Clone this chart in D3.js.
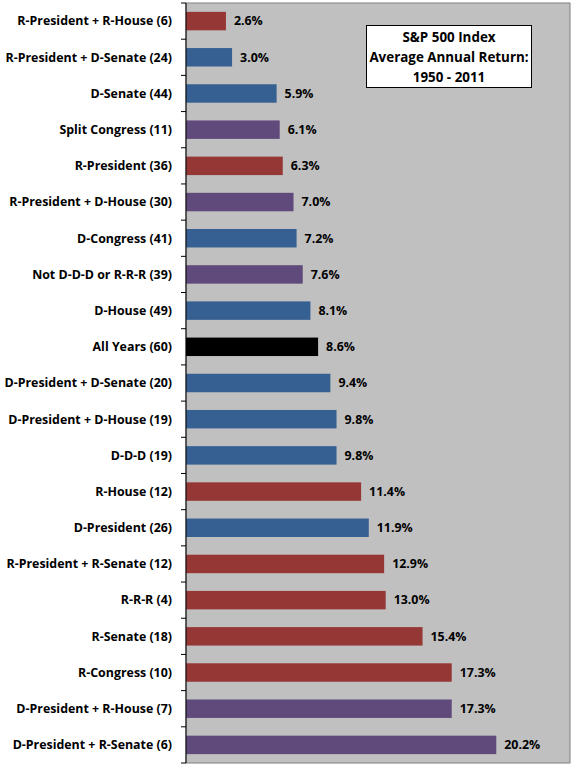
<!DOCTYPE html>
<html>
<head>
  <meta charset="utf-8">
  <style>
    body { margin: 0; background: #fff; }
    svg text { font-family: "Open Sans", "Liberation Sans", sans-serif; font-weight: bold; fill: #000; }
    .cat-label { font-size: 12.4px; }
    .val-label { font-size: 12.4px; }
    .note text { font-size: 13.4px; }
  </style>
</head>
<body>
<script src="https://d3js.org/d3.v7.min.js"></script>
<script>
  // categories top to bottom
  var categories = [
    "R-President + R-House (6)", "R-President + D-Senate (24)", "D-Senate (44)",
    "Split Congress (11)", "R-President (36)", "R-President + D-House (30)",
    "D-Congress (41)", "Not D-D-D or R-R-R (39)", "D-House (49)", "All Years (60)",
    "D-President + D-Senate (20)", "D-President + D-House (19)", "D-D-D (19)",
    "R-House (12)", "D-President (26)", "R-President + R-Senate (12)", "R-R-R (4)",
    "R-Senate (18)", "R-Congress (10)", "D-President + R-House (7)",
    "D-President + R-Senate (6)"
  ];
  var returns = [2.6, 3.0, 5.9, 6.1, 6.3, 7.0, 7.2, 7.6, 8.1, 8.6, 9.4, 9.8, 9.8,
                 11.4, 11.9, 12.9, 13.0, 15.4, 17.3, 17.3, 20.2];
  // R = republican, D = democrat, S = split, A = all years
  var groups = ["R", "D", "D", "S", "R", "S", "D", "S", "D", "A", "D", "D", "D",
                "R", "D", "R", "R", "R", "R", "S", "S"];
  var noteLines = ["S&P 500 Index", "Average Annual Return:", "1950 - 2011"];

  var colors = { R: "#953735", D: "#366092", S: "#604A7B", A: "#000000" };

  var width = 576, height = 768;
  var plot = { left: 186, right: 570, top: 3, bottom: 763 };

  var svg = d3.select("body").append("svg")
      .attr("width", width)
      .attr("height", height);

  var xScale = d3.scaleLinear().domain([0, 25]).range([plot.left, plot.right]);
  var yScale = d3.scaleBand().domain(categories).range([plot.top, plot.bottom]).paddingInner(0.49).paddingOuter(0.245);

  // plot area
  svg.append("rect")
      .attr("x", plot.left)
      .attr("y", plot.top)
      .attr("width", plot.right - plot.left)
      .attr("height", plot.bottom - plot.top)
      .style("fill", "#C0C0C0")
      .style("stroke", "#808080")
      .style("stroke-width", 1);

  var data = categories.map(function (c, i) {
    return { cat: c, val: returns[i], grp: groups[i] };
  });

  svg.selectAll("rect.bar")
      .data(data)
    .enter().append("rect")
      .classed("bar", true)
      .attr("x", xScale(0))
      .attr("y", function (d) { return yScale(d.cat); })
      .attr("width", function (d) { return xScale(d.val) - xScale(0); })
      .attr("height", yScale.bandwidth())
      .style("fill", function (d) { return colors[d.grp]; });

  svg.selectAll("text.val-label")
      .data(data)
    .enter().append("text")
      .classed("val-label", true)
      .attr("x", function (d) { return xScale(d.val) + 8; })
      .attr("y", function (d) { return yScale(d.cat) + yScale.bandwidth() / 2; })
      .attr("dy", "0.35em")
      .text(function (d) { return d.val.toFixed(1) + "%"; });

  // category axis with ticks on band boundaries
  var step = yScale.step();
  var axisG = svg.append("g");
  axisG.append("line")
      .attr("x1", plot.left).attr("x2", plot.left)
      .attr("y1", plot.top).attr("y2", plot.bottom)
      .style("stroke", "#000");
  axisG.selectAll("line.tick")
      .data(d3.range(categories.length + 1))
    .enter().append("line")
      .classed("tick", true)
      .attr("x1", plot.left - 5).attr("x2", plot.left)
      .attr("y1", function (i) { return plot.top + i * step; })
      .attr("y2", function (i) { return plot.top + i * step; })
      .style("stroke", "#000");

  axisG.selectAll("text.cat-label")
      .data(categories)
    .enter().append("text")
      .classed("cat-label", true)
      .attr("x", 172)
      .attr("y", function (d) { return yScale(d) + yScale.bandwidth() / 2; })
      .attr("dy", "0.35em")
      .style("text-anchor", "end")
      .text(function (d) { return d; });

  // note box
  var note = svg.append("g").classed("note", true);
  note.append("rect")
      .attr("x", 366.5).attr("y", 25.5)
      .attr("width", 165).attr("height", 62)
      .style("fill", "#fff")
      .style("stroke", "#000");
  note.selectAll("text")
      .data(noteLines)
    .enter().append("text")
      .attr("x", 449)
      .attr("y", function (d, i) { return 37 + i * 20; })
      .attr("dy", "0.35em")
      .style("text-anchor", "middle")
      .text(function (d) { return d; });
</script>
</body>
</html>
